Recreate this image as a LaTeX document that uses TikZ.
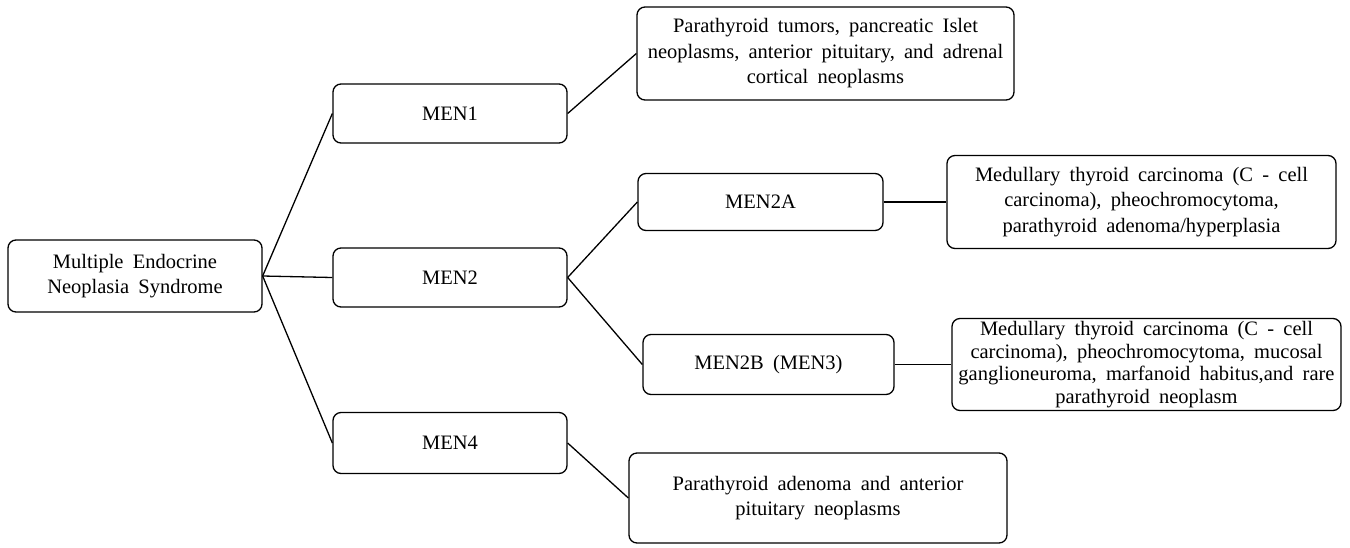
\documentclass[tikz,border=0pt]{standalone}
\usepackage{fontspec}
\setmainfont{Liberation Serif}
\begin{document}
\begin{tikzpicture}[x=1pt,y=-1pt,
  box/.style={draw, line width=1.3pt, rounded corners=8pt, inner sep=2pt, align=center,
    font={\fontsize{20.5}{25.5}\selectfont\spaceskip=0.45em plus 0.1em minus 0.05em\relax}},
  conn/.style={line width=1.3pt}]
\useasboundingbox (0,0) rectangle (1350,547);
\node[box, minimum width=254pt, minimum height=72pt] (root) at (135,276) {Multiple Endocrine\\Neoplasia Syndrome};
\node[box, minimum width=234pt, minimum height=59pt] (men1) at (450,113.5) {MEN1};
\node[box, minimum width=234pt, minimum height=59pt] (men2) at (450,277.5) {MEN2};
\node[box, minimum width=234pt, minimum height=61pt] (men4) at (450,443) {MEN4};
\node[box, minimum width=245pt, minimum height=57pt] (men2a) at (760.5,202) {MEN2A};
\node[box, minimum width=251pt, minimum height=60pt] (men2b) at (768.5,364.5) {MEN2B (MEN3)};
\node[box, minimum width=377pt, minimum height=93pt] (d1) at (825.5,53.5) {Parathyroid tumors, pancreatic Islet\\neoplasms, anterior pituitary, and adrenal\\cortical neoplasms};
\node[box, minimum width=389pt, minimum height=93pt] (d2a) at (1141.5,202) {Medullary thyroid carcinoma (C - cell\\carcinoma), pheochromocytoma,\\parathyroid adenoma/hyperplasia};
\node[box, minimum width=389pt, minimum height=92pt, font={\fontsize{20.5}{22.5}\selectfont\spaceskip=0.45em plus 0.1em minus 0.05em\relax}] (d2b) at (1146.5,364.5) {Medullary thyroid carcinoma (C - cell\\carcinoma), pheochromocytoma, mucosal\\ganglioneuroma, marfanoid habitus,and rare\\parathyroid neoplasm};
\node[box, minimum width=378pt, minimum height=90pt] (d4) at (818,498) {Parathyroid adenoma and anterior\\pituitary neoplasms};
\draw[conn] (root.east) -- (men1.west);
\draw[conn] (root.east) -- (men2.west);
\draw[conn] (root.east) -- (men4.west);
\draw[conn] (men1.east) -- (d1.west);
\draw[conn] (men2.east) -- (men2a.west);
\draw[conn] (men2.east) -- (men2b.west);
\draw[conn] (men2a.east) -- (d2a.west);
\draw[conn] (men2b.east) -- (d2b.west);
\draw[conn] (men4.east) -- (d4.west);
\end{tikzpicture}
\end{document}
